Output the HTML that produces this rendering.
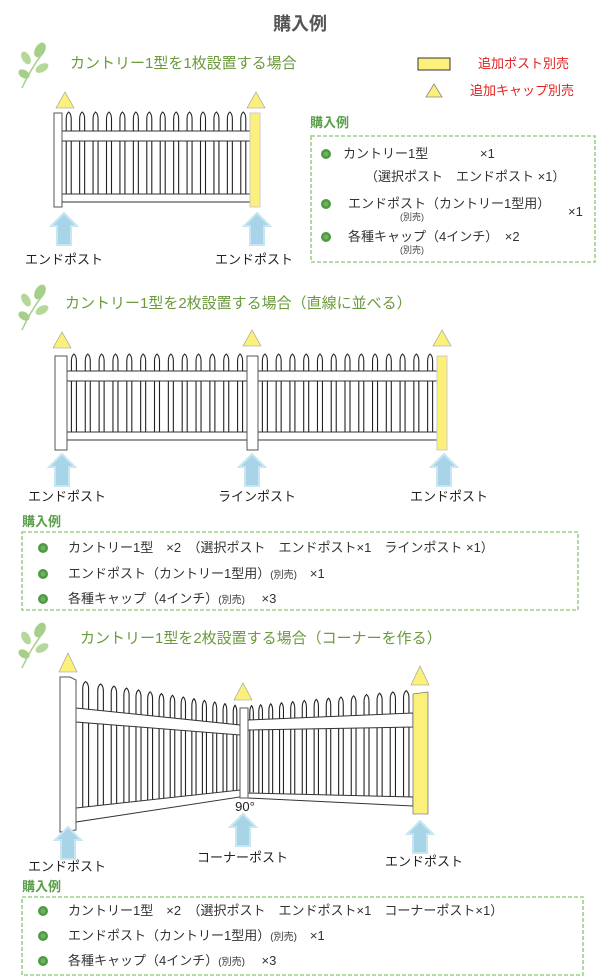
<!DOCTYPE html>
<html><head><meta charset="utf-8"><style>
html,body{margin:0;padding:0;background:#fff;width:600px;height:980px;overflow:hidden}
svg{display:block}
text{font-family:"Liberation Sans","Noto Sans CJK JP",sans-serif}
.t{font-size:13px;fill:#333}
.s{font-size:9px;fill:#444}
.g{fill:#6b9a3c;font-size:15px}
.gh{fill:#5aa04a;font-size:13px;font-weight:bold}
.lb{font-size:13px;fill:#222}
</style></head><body>
<svg id="s" width="600" height="980" viewBox="0 0 600 980" xmlns="http://www.w3.org/2000/svg">
<defs>
<g id="leaf">
<path d="M10 48 Q18 30 30 14" stroke="#a6d08a" stroke-width="1.5" fill="none"/>
<ellipse cx="28" cy="10" rx="5" ry="8" fill="#a6d08a" transform="rotate(30 28 10)"/>
<ellipse cx="14" cy="18" rx="4" ry="7" fill="#b4d89a" transform="rotate(-30 14 18)"/>
<ellipse cx="30" cy="28" rx="4" ry="7" fill="#b4d89a" transform="rotate(60 30 28)"/>
<ellipse cx="12" cy="34" rx="4" ry="6" fill="#a6d08a" transform="rotate(-60 12 34)"/>
</g>
<g id="arr"><path d="M0 -16 L13 -3 L7 -3 L7 16 L-7 16 L-7 -3 L-13 -3 Z" fill="#a8d4e8" stroke="#c8e6f2" stroke-width="2"/></g>
<g id="bul"><circle r="5" fill="#4e9a44"/><circle r="2.5" fill="#6fb25e"/></g>
</defs>

<text x="300" y="30" text-anchor="middle" font-size="18" font-weight="bold" fill="#555">購入例</text>

<use href="#leaf" x="12" y="40"/>
<text x="70" y="68" class="g">カントリー1型を1枚設置する場合</text>
<rect x="418" y="58" width="32" height="12" fill="#fbf07a" stroke="#333" stroke-width="1"/>
<text x="478" y="68" font-size="13" fill="#e02020">追加ポスト別売</text>
<polygon points="434,84 426,97 442,97" fill="#fbf07a" stroke="#888" stroke-width="0.8"/>
<text x="470" y="95" font-size="13" fill="#e02020">追加キャップ別売</text>
<g id="f1"></g>
<polygon points="65,92 56,108 74,108" fill="#fbf07a" stroke="#999" stroke-width="0.6"/>
<polygon points="256,92 247,108 265,108" fill="#fbf07a" stroke="#999" stroke-width="0.6"/>
<use href="#arr" x="64" y="229"/><use href="#arr" x="257" y="229"/>
<text x="25" y="264" class="lb">エンドポスト</text>
<text x="215" y="264" class="lb">エンドポスト</text>

<text x="310" y="127" class="gh">購入例</text>
<rect x="311" y="136" width="284" height="126" fill="none" stroke="#9cd08a" stroke-width="1.6" stroke-dasharray="4 2"/>
<use href="#bul" x="326" y="154"/>
<text x="343" y="158" class="t">カントリー1型</text><text x="480" y="158" class="t">×1</text>
<text x="365" y="181" class="t">（選択ポスト　エンドポスト ×1）</text>
<use href="#bul" x="326" y="204"/>
<text x="348" y="208" class="t">エンドポスト（カントリー1型用）</text>
<text x="568" y="216" class="t">×1</text>
<text x="400" y="220" class="s">(別売)</text>
<use href="#bul" x="326" y="237"/>
<text x="348" y="241" class="t">各種キャップ（4インチ）　×2</text>
<text x="400" y="253" class="s">(別売)</text>

<use href="#leaf" x="12" y="282"/>
<text x="65" y="308" class="g">カントリー1型を2枚設置する場合（直線に並べる）</text>
<g id="f2"></g>
<polygon points="62,332 53,348 71,348" fill="#fbf07a" stroke="#999" stroke-width="0.6"/>
<polygon points="252,330 243,346 261,346" fill="#fbf07a" stroke="#999" stroke-width="0.6"/>
<polygon points="442,330 433,346 451,346" fill="#fbf07a" stroke="#999" stroke-width="0.6"/>
<use href="#arr" x="62" y="470"/><use href="#arr" x="252" y="470"/><use href="#arr" x="444" y="470"/>
<text x="28" y="501" class="lb">エンドポスト</text>
<text x="218" y="501" class="lb">ラインポスト</text>
<text x="410" y="501" class="lb">エンドポスト</text>

<text x="22" y="526" class="gh">購入例</text>
<rect x="22" y="532" width="556" height="78" fill="none" stroke="#9cd08a" stroke-width="1.6" stroke-dasharray="4 2"/>
<use href="#bul" x="43" y="548"/>
<text x="68" y="552" class="t">カントリー1型　×2　（選択ポスト　エンドポスト×1　ラインポスト ×1）</text>
<use href="#bul" x="43" y="574"/>
<text x="68" y="578" class="t">エンドポスト（カントリー1型用）<tspan font-size="10">(別売)</tspan>　×1</text>
<use href="#bul" x="43" y="599"/>
<text x="68" y="603" class="t">各種キャップ（4インチ）<tspan font-size="10">(別売)</tspan>　 ×3</text>

<use href="#leaf" x="12" y="620"/>
<text x="80" y="643" class="g">カントリー1型を2枚設置する場合（コーナーを作る）</text>
<g id="f3"></g>
<polygon points="68,653 59,672 77,672" fill="#fbf07a" stroke="#999" stroke-width="0.6"/>
<polygon points="243,683 234,700 252,700" fill="#fbf07a" stroke="#999" stroke-width="0.6"/>
<polygon points="420,666 411,685 429,685" fill="#fbf07a" stroke="#999" stroke-width="0.6"/>
<text x="245" y="811" text-anchor="middle" font-size="13" fill="#222">90°</text>
<use href="#arr" x="243" y="830"/><use href="#arr" x="68" y="843"/><use href="#arr" x="420" y="837"/>
<text x="28" y="871" class="lb">エンドポスト</text>
<text x="197" y="862" class="lb">コーナーポスト</text>
<text x="385" y="866" class="lb">エンドポスト</text>

<text x="22" y="891" class="gh">購入例</text>
<rect x="22" y="897" width="561" height="78" fill="none" stroke="#9cd08a" stroke-width="1.6" stroke-dasharray="4 2"/>
<use href="#bul" x="43" y="911"/>
<text x="68" y="915" class="t">カントリー1型　×2　（選択ポスト　エンドポスト×1　コーナーポスト×1）</text>
<use href="#bul" x="43" y="936"/>
<text x="68" y="940" class="t">エンドポスト（カントリー1型用）<tspan font-size="10">(別売)</tspan>　×1</text>
<use href="#bul" x="43" y="961"/>
<text x="68" y="965" class="t">各種キャップ（4インチ）<tspan font-size="10">(別売)</tspan>　 ×3</text>
</svg>
<script>
var NS="http://www.w3.org/2000/svg";
function el(g,t,a){var e=document.createElementNS(NS,t);for(var k in a)e.setAttribute(k,a[k]);g.appendChild(e);return e;}
function picket(g,x,top,bot,w){
  var h=w/2;
  el(g,"path",{d:"M"+(x-h)+" "+bot+" L"+(x-h)+" "+(top+7)+" Q"+(x-h)+" "+(top+2)+" "+x+" "+top+" Q"+(x+h)+" "+(top+2)+" "+(x+h)+" "+(top+7)+" L"+(x+h)+" "+bot,fill:"#fff",stroke:"#222","stroke-width":1.1});
}
function straight(g,x0,x1,top,r1,r2,bot){
  var n=Math.round((x1-x0)/13.6);var sp=(x1-x0)/n;
  for(var i=0;i<n;i++)picket(g,x0+sp*(i+0.5),top,bot,5);
  el(g,"rect",{x:x0,y:r1,width:x1-x0,height:10,fill:"#fff",stroke:"#333","stroke-width":1});
  el(g,"rect",{x:x0,y:r2,width:x1-x0,height:8,fill:"#fff",stroke:"#333","stroke-width":1});
}
function post(g,x,y,w,h,y2){el(g,"rect",{x:x,y:y,width:w,height:h,fill:y2?"#fbf07a":"#fff",stroke:y2?"#ccc":"#555","stroke-width":1});}
var f1=document.getElementById("f1");
straight(f1,62,250,112,131,194,200);
post(f1,54,113,8,94);post(f1,250,113,10,94,1);
var f2=document.getElementById("f2");
straight(f2,67,247,354,371,432,440);
straight(f2,258,437,354,371,432,440);
post(f2,55,356,12,94);post(f2,247,356,11,94);post(f2,437,356,10,94,1);
var f3=document.getElementById("f3");
function persp(g,xa,xb,ta,tb,ba,bb,n,wa,wb,pw){
  for(var i=0;i<n;i++){var f=(i+0.5)/n;f=Math.pow(f,pw);var x=xa+(xb-xa)*f;picket(g,x,ta+(tb-ta)*f,ba+(bb-ba)*f,wa+(wb-wa)*f);}
}
persp(f3,76,240,680,706,815,790,14,6,3.5,0.85);
persp(f3,248,413,706,690,792,806,14,3.5,5.5,1.15);
el(f3,"polygon",{points:"76,708 240,725 240,735 76,722",fill:"#fff",stroke:"#333","stroke-width":1});
el(f3,"polygon",{points:"76,808 240,790 240,797 76,822",fill:"#fff",stroke:"#333","stroke-width":1});
el(f3,"polygon",{points:"248,720 413,713 413,727 248,730",fill:"#fff",stroke:"#333","stroke-width":1});
el(f3,"polygon",{points:"248,793 413,797 413,806 248,798",fill:"#fff",stroke:"#333","stroke-width":1});
el(f3,"path",{d:"M60 832 L60 677 L70 677 L76 680 L76 830 Z",fill:"#fff",stroke:"#555","stroke-width":1});
post(f3,240,708,8,90);
el(f3,"path",{d:"M413 814 L413 694 L428 692 L428 814 Z",fill:"#fbf07a",stroke:"#555","stroke-width":0.6});
</script>
</body></html>
